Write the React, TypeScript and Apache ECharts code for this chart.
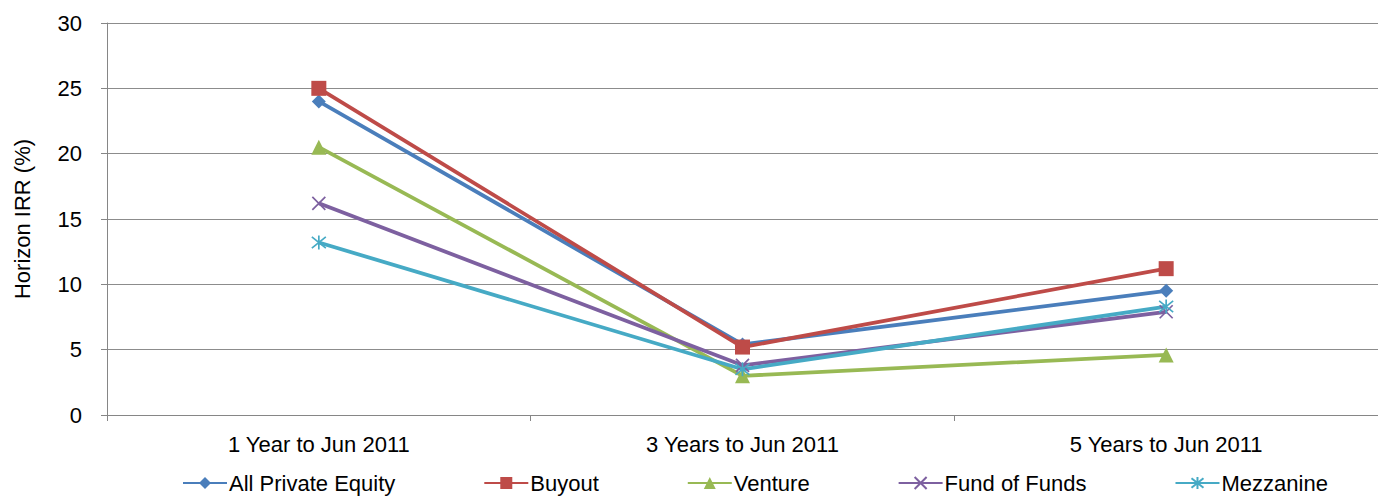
import React, { useEffect, useRef } from "react";
import * as echarts from "echarts";

const categories = ["1 Year to Jun 2011", "3 Years to Jun 2011", "5 Years to Jun 2011"];
const allPrivateEquity = [24.0, 5.4, 9.5];
const buyout = [25.0, 5.2, 11.2];
const venture = [20.5, 3.0, 4.6];
const fundOfFunds = [16.2, 3.8, 7.9];
const mezzanine = [13.2, 3.5, 8.3];
const yTicks = { min: 0, max: 30, interval: 5 };

const CROSS = "path://M0,0L10,10M10,0L0,10";
const STAR = "path://M5,0L5,10M1,1L9,9M9,1L1,9";

const FONT = "Liberation Sans, Arial, sans-serif";
const FS = 22;

function makeSeries(name: string, data: number[], color: string, symbol: string, size: number, stroke = false) {
  return {
    name,
    type: "line",
    data,
    symbol,
    symbolSize: size,
    showSymbol: true,
    lineStyle: { color, width: 3.8 },
    itemStyle: stroke
      ? { color, borderColor: color, borderWidth: 1.7 }
      : { color, borderColor: color, borderWidth: 0 },
    emphasis: { disabled: true },
  };
}

export default function App() {
  const ref = useRef<HTMLDivElement>(null);
  useEffect(() => {
    document.body.style.margin = "0";
    const chart = echarts.init(ref.current!, undefined, { renderer: "svg" });
    chart.setOption({
      animation: false,
      backgroundColor: "#ffffff",
      textStyle: { fontFamily: FONT },
      grid: { left: 107, right: 0, top: 23, bottom: 82, containLabel: false, outerBoundsMode: "none" },
      xAxis: {
        type: "category",
        data: categories,
        boundaryGap: true,
        axisLine: { lineStyle: { color: "#868686", width: 1 } },
        axisTick: { show: true, length: 6, lineStyle: { color: "#868686" } },
        axisLabel: { color: "#000", fontSize: FS, fontFamily: FONT, margin: 18 },
        splitLine: { show: false },
      },
      yAxis: {
        type: "value",
        min: yTicks.min,
        max: yTicks.max,
        interval: yTicks.interval,
        name: "Horizon IRR (%)",
        nameLocation: "middle",
        nameGap: 74,
        nameTextStyle: { color: "#000", fontSize: FS, fontFamily: FONT },
        axisLine: { show: true, lineStyle: { color: "#868686", width: 1 } },
        axisTick: { show: true, length: 6, lineStyle: { color: "#868686" } },
        axisLabel: { color: "#000", fontSize: FS, fontFamily: FONT, margin: 25 },
        splitLine: { show: true, lineStyle: { color: "#8c8c8c", width: 1 } },
      },
      legend: {
        top: 472,
        left: 182,
        padding: 0,
        itemWidth: 44,
        itemHeight: 15,
        itemGap: 88,
        textStyle: { color: "#000", fontSize: FS, fontFamily: FONT, padding: [0, 0, 0, -3] },
        data: ["All Private Equity", "Buyout", "Venture", "Fund of Funds", "Mezzanine"],
      },
      series: [
        makeSeries("All Private Equity", allPrivateEquity, "#4A7EBB", "diamond", 14),
        makeSeries("Buyout", buyout, "#BE4B48", "rect", 15),
        makeSeries("Venture", venture, "#98B954", "triangle", 15),
        makeSeries("Fund of Funds", fundOfFunds, "#7D60A0", CROSS, 13, true),
        makeSeries("Mezzanine", mezzanine, "#46AAC5", STAR, 14, true),
      ],
    });
    return () => chart.dispose();
  }, []);
  return <div ref={ref} style={{ width: 1378, height: 497 }} />;
}
